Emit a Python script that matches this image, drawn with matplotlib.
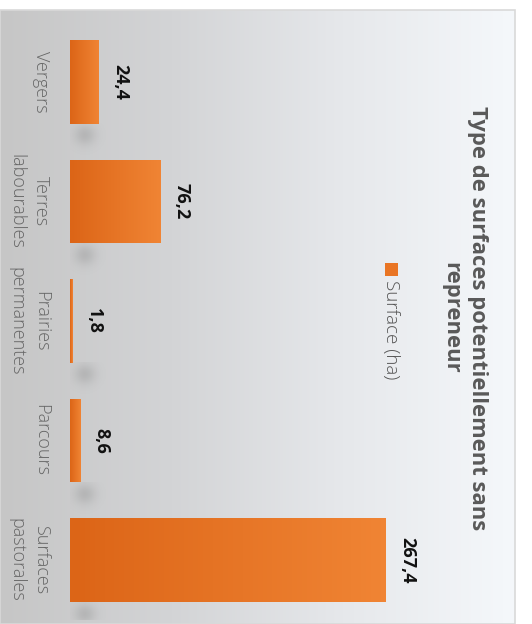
import numpy as np
import matplotlib
matplotlib.use("Agg")
import matplotlib.pyplot as plt
from matplotlib.patches import Rectangle
from matplotlib.colors import LinearSegmentedColormap

plt.rcParams["font.family"] = ["Open Sans", "DejaVu Sans"]

# Data
categories = ["Vergers", "Terres\nlabourables", "Prairies\npermanentes", "Parcours", "Surfaces\npastorales"]
values = [24.4, 76.2, 1.8, 8.6, 267.4]
value_labels = ["24,4", "76,2", "1,8", "8,6", "267,4"]
title = "Type de surfaces potentiellement sans\nrepreneur"
legend_label = "Surface (ha)"

W, H = 532, 624
fig = plt.figure(figsize=(W / 100, H / 100), dpi=100)
fig.patch.set_facecolor("white")


def box(x0, y0, x1, y1):
    """Figure-fraction rectangle from pixel coords measured from the top-left."""
    return [x0 / W, 1 - y1 / H, (x1 - x0) / W, (y1 - y0) / H]


# Panel background: grey-to-white horizontal gradient
bg = fig.add_axes(box(0, 10, 515, 624))
bg_cmap = LinearSegmentedColormap.from_list(
    "bg", ["#c6c6c6", "#d3d4d6", "#e6e8eb", "#f5f8fb"])
bg.imshow(np.linspace(0, 1, 256)[None, :], cmap=bg_cmap, aspect="auto",
          extent=[0, 1, 0, 1])
bg.set_xlim(0, 1)
bg.set_ylim(0, 1)
bg.axis("off")
fig.patches.append(Rectangle((0, 0), 515 / W, 614 / H, transform=fig.transFigure,
                             fill=False, edgecolor="#d9d9d9", linewidth=1.2))

# Bar axes (bars grow to the right, categories top to bottom)
ax = fig.add_axes(box(70, 22.25, 510, 619.75))
ax.patch.set_alpha(0)
px_per_unit = 1.1817
xmax = 440 / px_per_unit
bar_h = 0.70
bars = ax.barh(range(len(values)), values, height=bar_h, color="#e8731f", zorder=2)

# Soft shadow under the base of each bar
gx = np.linspace(-1, 1, 80)
gy = np.linspace(0, 1, 60)
GX, GY = np.meshgrid(gx, gy)
shadow_alpha = 0.22 * np.exp(-(GX ** 2) / 0.18) * np.exp(-((GY - 0.35) ** 2) / 0.09)
shadow = np.zeros(GX.shape + (4,))
shadow[..., :3] = 0.4
shadow[..., 3] = shadow_alpha
for bar in bars:
    yb = bar.get_y() + bar.get_height()
    ax.imshow(shadow, aspect="auto", interpolation="bilinear",
              extent=[-10 / px_per_unit, 40 / px_per_unit, yb + 0.28, yb],
              zorder=1.5)

bar_cmap = LinearSegmentedColormap.from_list("bar", ["#dc6517", "#f08434"])
for bar in bars:
    x0, y0 = bar.get_x(), bar.get_y()
    w, h = bar.get_width(), bar.get_height()
    im = ax.imshow(np.linspace(0, 1, 64)[None, :], cmap=bar_cmap, aspect="auto",
                   extent=[x0, x0 + w, y0, y0 + h], zorder=2.5)
    im.set_clip_path(bar)

ax.set_xlim(0, xmax)
ax.set_ylim(len(values) - 0.5, -0.5)
ax.axis("off")

for i, (v, lbl) in enumerate(zip(values, value_labels)):
    ax.annotate(lbl, (v, i), xytext=(9, 0), textcoords="offset points",
                ha="left", va="center", rotation=-90, fontsize=13,
                fontweight="bold", color="#111111")

# Category labels, rotated
for i, cat in enumerate(categories):
    yc = 82 + 119.5 * i
    fig.text(50 / W, 1 - yc / H, cat, ha="right", va="center", rotation=-90,
             fontsize=13, fontweight="light", color="#666666",
             multialignment="center", linespacing=1.45)

# Title
fig.text(464 / W, 1 - 318 / H, title, ha="center", va="center", rotation=-90,
         fontsize=15.8, fontweight="bold", color="#595959",
         multialignment="center", linespacing=1.35)

# Legend
fig.patches.append(Rectangle((385 / W, 1 - 276 / H), 13 / W, 13 / H,
                             transform=fig.transFigure, facecolor="#e97524",
                             edgecolor="none"))
fig.text(391 / W, 1 - 280 / H, legend_label, ha="center", va="top", rotation=-90,
         fontsize=13.5, fontweight="light", color="#555555")

fig.savefig("out.png", dpi=100)
